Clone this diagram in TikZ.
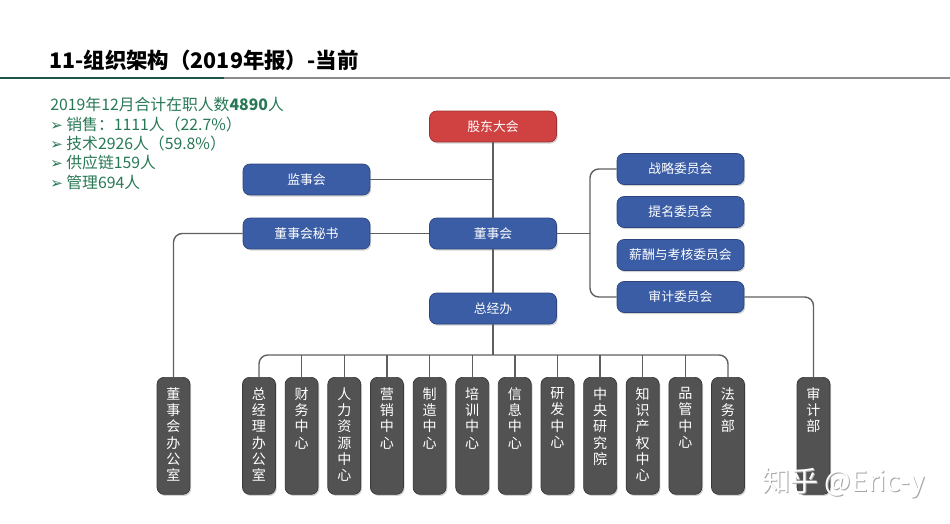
\documentclass[tikz,border=0pt]{standalone}
\usepackage{fontspec}
\setmainfont{Noto Sans CJK SC}
\newfontfamily\dejavu{DejaVu Sans}
\usetikzlibrary{shadows}
\definecolor{txtgreen}{RGB}{40,120,85}
\definecolor{boxblue}{RGB}{58,93,166}
\definecolor{boxred}{RGB}{208,66,66}
\definecolor{boxgray}{RGB}{82,82,82}
\definecolor{linegray}{RGB}{95,95,95}
\definecolor{teal}{RGB}{30,85,75}
\newcommand{\bulletmark}{{\dejavu\fontsize{8.5}{11}\selectfont ➢}}
\tikzset{
  hbox/.style={draw=#1!75!black, fill=#1, rounded corners=4pt, minimum width=2.54cm, minimum height=0.62cm,
    text=white, font=\fontsize{7.3}{9}\selectfont, inner sep=0pt,
    drop shadow={opacity=0.35, shadow xshift=0.7pt, shadow yshift=-0.9pt}},
  vbox/.style={draw=boxgray!70!black, fill=boxgray, rounded corners=4pt, minimum width=0.66cm, minimum height=2.34cm,
    inner sep=0pt, anchor=north,
    drop shadow={opacity=0.35, shadow xshift=0.7pt, shadow yshift=-0.9pt}},
  vtext/.style={anchor=north, text=white, inner sep=0pt, align=center, font=\fontsize{8}{9.3}\selectfont},
  conn/.style={draw=linegray, line width=0.8pt, rounded corners=5pt},
}
\begin{document}
\begin{tikzpicture}[x=0.02cm, y=-0.02cm]
\useasboundingbox (0,0) rectangle (950,524);
% title
\node[anchor=west, inner sep=0pt, font=\fontsize{12.2}{14}\selectfont\bfseries] (title) at (49,60) {11-组织架构（2019年报）-当前};
\draw[teal, line width=1.2pt] (0,78) -- (224,78);
\draw[gray!90, line width=1.2pt] (224,78) -- (950,78);
% info block
\node[anchor=north west, inner sep=0pt, align=left, text=txtgreen, font=\fontsize{9}{11}\selectfont] (info) at (50,97)
 {2019年12月合计在职人数\textbf{4890}人\\
  \bulletmark\ 销售：1111人（22.7\%）\\
  \bulletmark\ 技术2926人（59.8\%）\\
  \bulletmark\ 供应链159人\\
  \bulletmark\ 管理694人};
% top boxes
\node[hbox=boxred]  (gd)  at (493,126.5) {股东大会};
\node[hbox=boxblue] (jsh) at (306.5,179.5) {监事会};
\node[hbox=boxblue] (dms) at (306.5,233.5) {董事会秘书};
\node[hbox=boxblue] (dsh) at (493,233.5) {董事会};
\node[hbox=boxblue] (zjb) at (493,308.5) {总经办};
\node[hbox=boxblue] (zl)  at (680.5,169) {战略委员会};
\node[hbox=boxblue] (tm)  at (680.5,212) {提名委员会};
\node[hbox=boxblue] (xc)  at (680.5,255) {薪酬与考核委员会};
\node[hbox=boxblue] (sjw) at (680.5,297) {审计委员会};
% bottom boxes
\foreach \n/\x/\t in {dbs/173.5/董\\事\\会\\办\\公\\室,
  b1/259/总\\经\\理\\办\\公\\室, b2/301.6/财\\务\\中\\心, b3/344.3/人\\力\\资\\源\\中\\心,
  b4/386.9/营\\销\\中\\心, b5/429.6/制\\造\\中\\心, b6/472.2/培\\训\\中\\心,
  b7/514.8/信\\息\\中\\心, b8/557.5/研\\发\\中\\心, b9/600.1/中\\央\\研\\究\\院,
  b10/642.7/知\\识\\产\\权\\中\\心, b11/685.4/品\\管\\中\\心, b12/728/法\\务\\部,
  sjb/813.5/审\\计\\部}{
  \node[vbox] (\n) at (\x,377) {};
  \node[vtext] (\n t) at (\x,387) {\t};
}
% connectors
\draw[conn] (gd.south) -- (dsh.north);
\draw[conn] (dsh.south) -- (zjb.north);
\draw[conn] (jsh.east) -- (jsh.east -| gd.south);
\draw[conn] (dms.east) -- (dsh.west);
\draw[conn] (dms.west) -| (dbs.north);
\coordinate (xr) at (590,233.5);
\draw[conn] (dsh.east) -- (xr);
\draw[conn] (zl.west) -| (xr) |- (sjw.west);
\draw[conn] (sjw.east) -| (sjb.north);
\coordinate (bus) at (493,355);
\draw[conn] (zjb.south) -- (bus);
\draw[conn] (b1.north) |- (bus) -| (b12.north);
\foreach \n in {b2,b3,b4,b5,b6,b7,b8,b9,b10,b11}{
  \draw[conn] (\n.north) -- (\n.north |- bus);
}
% watermark
\node[anchor=west, inner sep=0pt, text=gray!70, font=\fontsize{16}{18}\selectfont] (wm1) at (763,484) {知乎 @Eric-y};
\node[anchor=west, inner sep=0pt, text=white, font=\fontsize{16}{18}\selectfont] (wm2) at (762,483) {知乎 @Eric-y};
\end{tikzpicture}
\end{document}
